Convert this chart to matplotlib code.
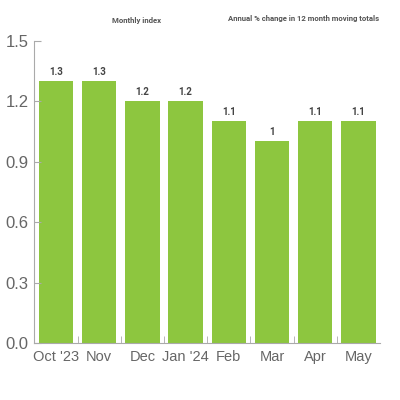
import matplotlib.pyplot as plt
from matplotlib.ticker import FixedLocator

months = ["Oct '23", "Nov", "Dec", "Jan '24", "Feb", "Mar", "Apr", "May"]
index_change = [1.3, 1.3, 1.2, 1.2, 1.1, 1.0, 1.1, 1.1]
y_ticks = [0.0, 0.3, 0.6, 0.9, 1.2, 1.5]

bar_color = '#8dc63f'
text_gray = '#555555'
tick_gray = '#666666'
axis_gray = '#aaaaaa'

plt.rcParams['font.family'] = ['Liberation Sans', 'DejaVu Sans']

fig = plt.figure(figsize=(4, 4), dpi=100)
ax = fig.add_axes([0.086, 0.1425, 0.864, 0.756])

x = range(len(months))
bars = ax.bar(x, index_change, width=0.8, color=bar_color)

ax.set_xlim(-0.5, len(months) - 0.5)
ax.set_ylim(0, 1.5)
ax.set_yticks(y_ticks)
ax.set_yticklabels([f'{v:.1f}' for v in y_ticks])
ax.set_xticks(list(x))
ax.set_xticklabels(months)

# ticks between bars, pointing up from the axis
ax.xaxis.set_minor_locator(FixedLocator([i + 0.5 for i in range(len(months) - 1)]))
ax.tick_params(axis='x', which='major', length=0, pad=5, labelsize=10.5, labelcolor=tick_gray)
ax.tick_params(axis='x', which='minor', direction='in', length=5, color=axis_gray)
ax.tick_params(axis='y', direction='in', length=5, color=axis_gray, pad=4,
               labelsize=12, labelcolor=tick_gray)

for side in ['top', 'right']:
    ax.spines[side].set_visible(False)
for side in ['left', 'bottom']:
    ax.spines[side].set_color(axis_gray)
    ax.spines[side].set_linewidth(0.8)

lbl_font = ['Roboto', 'DejaVu Sans']
for b, v in zip(bars, index_change):
    ax.text(b.get_x() + b.get_width() / 2, v + 0.02, f'{v:g}', ha='center', va='bottom',
            fontsize=7, fontweight='bold', color='#444444', family=lbl_font)

fig.text(137 / 400, 1 - 20 / 400, 'Monthly index', ha='center', va='center',
         fontsize=5.6, fontweight='bold', color=text_gray, family=lbl_font)
fig.text(379 / 400, 1 - 19 / 400, 'Annual % change in 12 month moving totals', ha='right',
         va='center', fontsize=5.6, fontweight='bold', color=text_gray, family=lbl_font)

plt.savefig('out.png', dpi=100)
